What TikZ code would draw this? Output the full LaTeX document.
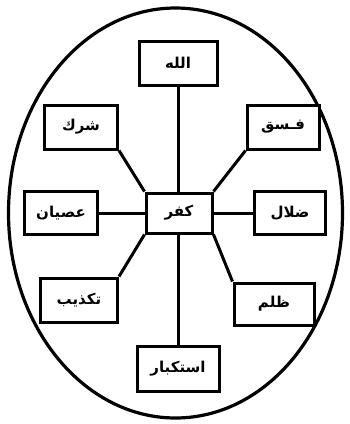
\documentclass[tikz,border=0pt]{standalone}
\usepackage{fontspec}
\TeXXeTstate=1
\newfontfamily\arabicfont[Script=Arabic]{DejaVu Sans Bold}
\begin{document}
\begin{tikzpicture}[x=1pt,y=-1pt,
  box/.style={draw,line width=3pt,fill=white,minimum width=#1,minimum height=44pt,inner sep=0pt,
    font=\arabicfont\fontsize{15}{17}\selectfont},
  link/.style={line width=3pt}]
\useasboundingbox (0,0) rectangle (350,424);
\draw[line width=3.2pt] (175.5,213) ellipse [x radius=167, y radius=205];
\node[box=78pt] (allah) at (178,63) {\beginR الله\endR};
\node[box=72pt] (fisq) at (283,127) {\beginR فـسق\endR};
\node[box=73pt] (shirk) at (81,127) {\beginR شرك\endR};
\node[box=66pt,minimum height=40pt] (kufr) at (179,213) {\beginR كفر\endR};
\node[box=73pt,minimum height=43pt] (isyan) at (61,213) {\beginR عصيان\endR};
\node[box=71pt,minimum height=43pt] (dalal) at (290,213) {\beginR ضلال\endR};
\node[box=77pt] (takdhib) at (79,300) {\beginR تكذيب\endR};
\node[box=80pt,minimum height=42pt] (zulm) at (274,304) {\beginR ظلم\endR};
\node[box=82pt,minimum height=45pt] (istikbar) at (178,369) {\beginR استكبار\endR};
\draw[link] (allah.south) -- (allah.south |- kufr.north);
\draw[link] (istikbar.north) -- (istikbar.north |- kufr.south);
\draw[link] (isyan.east) -- (kufr.west);
\draw[link] (dalal.west) -- (kufr.east);
\draw[link] (shirk.south east) -- (kufr.north west);
\draw[link] (fisq.south west) -- (kufr.north east);
\draw[link] (takdhib.north east) -- (kufr.south west);
\draw[link] (zulm.north west) -- (kufr.south east);
\end{tikzpicture}
\end{document}
